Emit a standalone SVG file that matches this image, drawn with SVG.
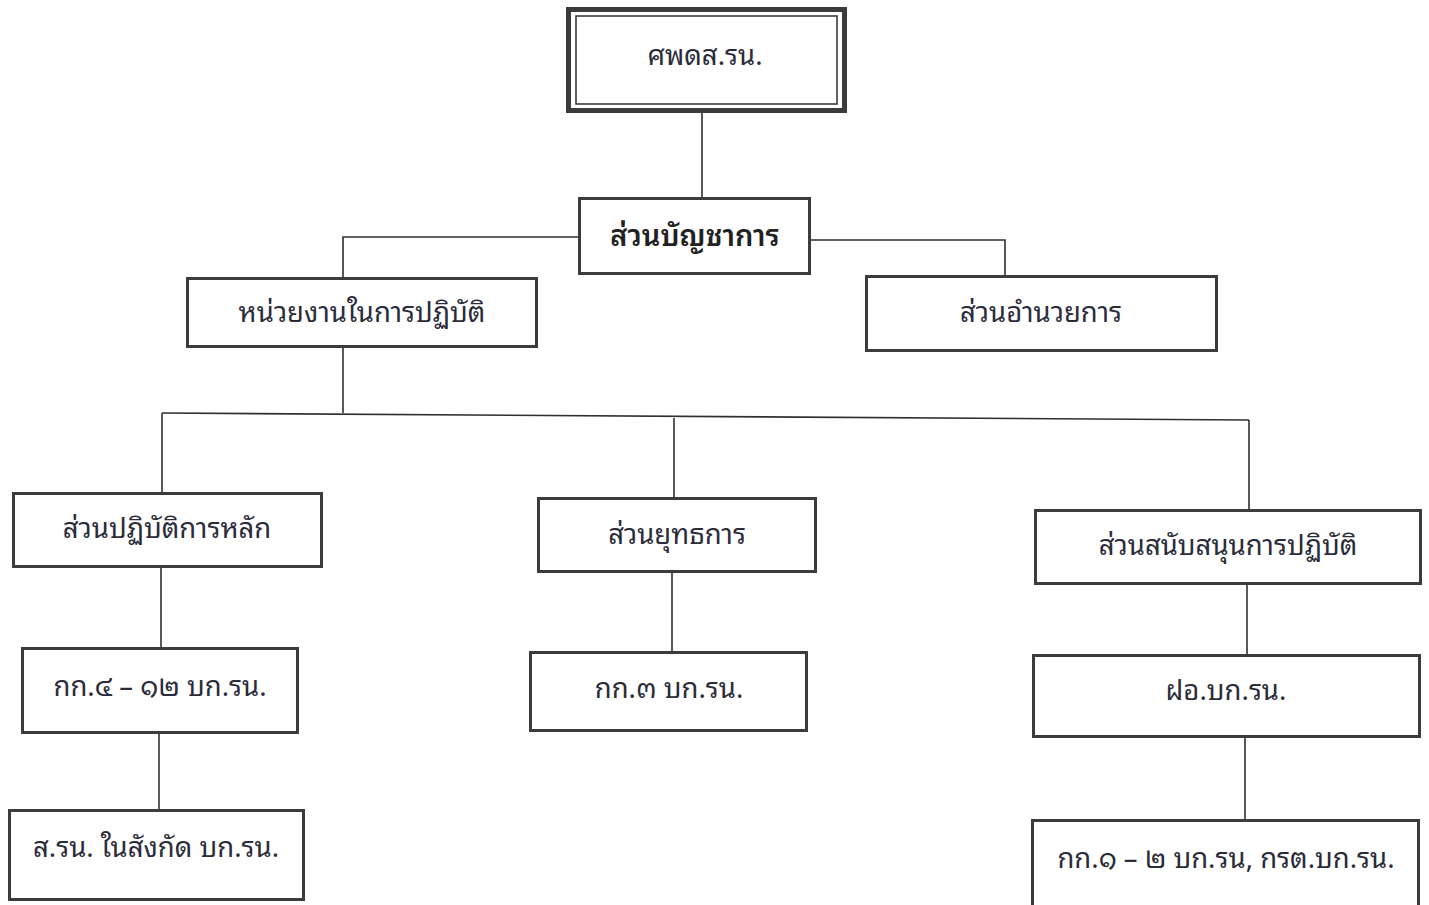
<svg xmlns="http://www.w3.org/2000/svg" width="1429" height="905" viewBox="0 0 1429 905">
<style>
.box{fill:#fff;stroke:#3a3d3c;stroke-width:3}
.t{font-family:"Noto Sans Thai Looped","Noto Sans Thai","Noto Sans",sans-serif;font-size:27.5px;fill:#2b2c3a;text-anchor:middle;dominant-baseline:central}
.b{font-size:29px;font-weight:600;fill:#222}
.c{fill:none;stroke:#2e2f33;stroke-width:1.6}
</style>
<rect width="1429" height="905" fill="#fff"/>
<g id="connectors">
<path class="c" d="M702 112V198"/>
<path class="c" d="M579 237H343V278"/>
<path class="c" d="M810 240H1005V276"/>
<path class="c" d="M343 347V413"/>
<path class="c" d="M162 413L1249 420"/>
<path class="c" d="M162 413V493"/>
<path class="c" d="M674 418V498"/>
<path class="c" d="M1249 420V510"/>
<path class="c" d="M161 567V648"/>
<path class="c" d="M672 572V652"/>
<path class="c" d="M1247 584V655"/>
<path class="c" d="M159 733V810"/>
<path class="c" d="M1245 737V820"/>
</g>
<g id="n1">
<rect x="568.5" y="9.5" width="276" height="101" fill="#fff" stroke="#3a3d3c" stroke-width="5"/>
<rect x="576" y="16" width="261" height="88" fill="none" stroke="#3a3d3c" stroke-width="1.6"/>
<text class="t" x="705" y="53">ศพดส.รน.</text>
</g>
<g id="n2">
<rect class="box" x="579.5" y="198.5" width="230" height="75"/>
<text class="t b" x="695" y="233">ส่วนบัญชาการ</text>
</g>
<g id="n3">
<rect class="box" x="187.5" y="278.5" width="349" height="68"/>
<text class="t" x="362" y="310">หน่วยงานในการปฏิบัติ</text>
</g>
<g id="n4">
<rect class="box" x="866.5" y="276.5" width="350" height="74"/>
<text class="t" x="1041" y="310">ส่วนอำนวยการ</text>
</g>
<g id="n5">
<rect class="box" x="13.5" y="493.5" width="308" height="73"/>
<text class="t" x="167" y="526">ส่วนปฏิบัติการหลัก</text>
</g>
<g id="n6">
<rect class="box" x="538.5" y="498.5" width="277" height="73"/>
<text class="t" x="677" y="532">ส่วนยุทธการ</text>
</g>
<g id="n7">
<rect class="box" x="1035.5" y="510.5" width="385" height="73"/>
<text class="t" x="1228" y="543">ส่วนสนับสนุนการปฏิบัติ</text>
</g>
<g id="n8">
<rect class="box" x="22.5" y="648.5" width="275" height="84"/>
<text class="t" x="160" y="684">กก.๔ – ๑๒ บก.รน.</text>
</g>
<g id="n9">
<rect class="box" x="530.5" y="652.5" width="276" height="78"/>
<text class="t" x="669" y="686">กก.๓ บก.รน.</text>
</g>
<g id="n10">
<rect class="box" x="1033.5" y="655.5" width="386" height="81"/>
<text class="t" x="1226" y="688">ฝอ.บก.รน.</text>
</g>
<g id="n11">
<rect class="box" x="9.5" y="810.5" width="294" height="89"/>
<text class="t" x="156" y="845">ส.รน. ในสังกัด บก.รน.</text>
</g>
<g id="n12">
<rect class="box" x="1032.5" y="820.5" width="386" height="90"/>
<text class="t" x="1226" y="856">กก.๑ – ๒ บก.รน, กรต.บก.รน.</text>
</g>
</svg>
